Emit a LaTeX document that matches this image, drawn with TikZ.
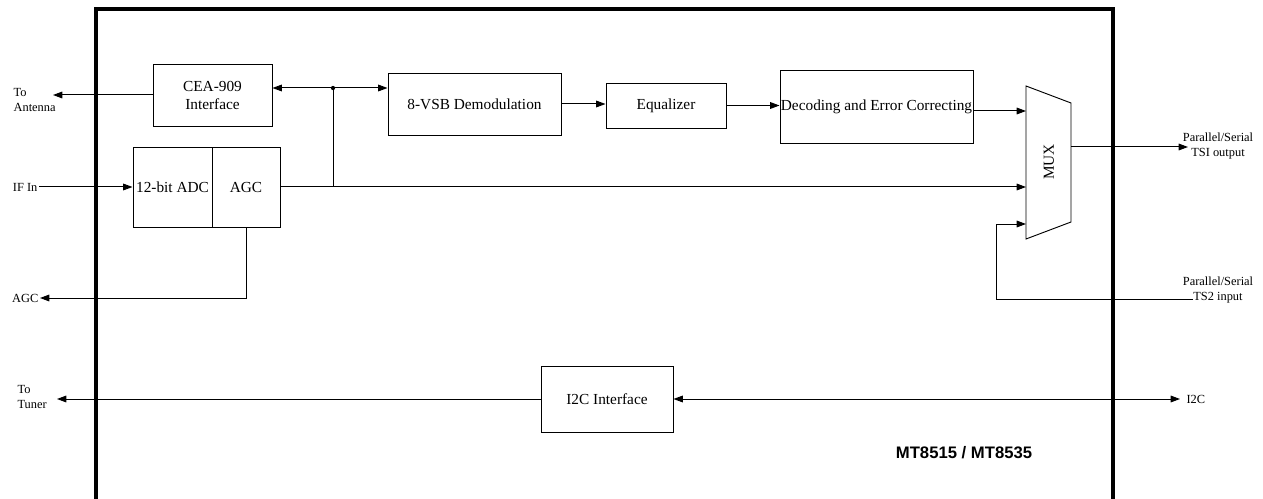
\documentclass[tikz,border=0pt]{standalone}
\usepackage{fontspec}
\setmainfont{Liberation Serif}
\newfontfamily\labsans{Liberation Sans}
\usetikzlibrary{arrows.meta,calc}
\begin{document}
\begin{tikzpicture}[x=0.75pt,y=-0.75pt,
  blk/.style={draw,line width=0.7pt,inner sep=0pt,align=center,font=\fontsize{11.5}{13.5}\selectfont},
  conn/.style={line width=0.75pt},
  arr/.style={conn,-{Triangle[length=7pt,width=5pt]}},
  darr/.style={conn,{Triangle[length=7pt,width=5pt]}-{Triangle[length=7pt,width=5pt]}},
  lab/.style={inner sep=1pt,align=center,font=\fontsize{9.3}{11}\selectfont},
  chip/.style={line width=2.6pt}]
\useasboundingbox (0,0) rectangle (1263,499);
% chip outline
\draw[chip] (96,499) -- (96,9) -- (1113,9) -- (1113,499);
% blocks
\node[blk,minimum width=89.25pt,minimum height=46.5pt] (cea) at (212.5,95) {CEA-909\\Interface};
\node[blk,minimum width=59.25pt,minimum height=60pt] (adc) at (172.5,187) {12-bit ADC};
\node[blk,minimum width=51pt,minimum height=60pt] (agc) at (246,187) {AGC};
\node[blk,minimum width=129.75pt,minimum height=46.5pt] (vsb) at (474.5,104) {8-VSB Demodulation};
\node[blk,minimum width=90pt,minimum height=33.75pt] (eq) at (666,105.5) {Equalizer};
\node[blk,minimum width=144.75pt,minimum height=54.75pt] (dec) at (876.5,106.5) {Decoding and Error Correcting};
\node[blk,minimum width=99pt,minimum height=49.5pt] (i2c) at (607,399) {I2C Interface};
% MUX trapezoid
\draw[line width=0.7pt] (1026,86) -- (1071,103) -- (1071,222) -- (1026,239) -- cycle;
\node[rotate=90,font=\fontsize{11.5}{13}\selectfont] (mux) at (1049,162) {MUX};
\coordinate (mi1) at (1026,111);
\coordinate (mi2) at (1026,187);
\coordinate (mi3) at (1026,224);
\coordinate (mo) at (1071,147);
% free ends
\coordinate (j) at (333,88);
\coordinate (jb) at (333,187);
\coordinate (ant) at (53,95);
\coordinate (ifin) at (39,187);
\coordinate (agcout) at (40,298);
\coordinate (tsout) at (1188,147);
\coordinate (ts2in) at (1193,299);
\coordinate (ts2c) at (996,299);
\coordinate (tuner) at (57,399);
\coordinate (i2cout) at (1180,399);
% connectors
\draw[arr] (cea.west) -- (ant);
\draw[darr] (cea.east |- j) -- (vsb.west |- j);
\draw[conn] (j) -- (jb);
\fill (j) circle (1.6pt);
\draw[arr] (ifin) -- (adc.west);
\draw[arr] (agc.east) -- (mi2);
\draw[arr] (agc.south) -- (agc.south |- agcout) -- (agcout);
\draw[arr] (vsb.east) -- (vsb.east -| eq.west);
\draw[arr] (eq.east) -- (eq.east -| dec.west);
\draw[arr] (dec.east |- mi1) -- (mi1);
\draw[arr] (mo) -- (tsout);
\draw[arr] (ts2in) -- (ts2c) -- (ts2c |- mi3) -- (mi3);
\draw[arr] (i2c.west) -- (tuner);
\draw[darr] (i2c.east) -- (i2cout);
% labels
\node[lab,anchor=west,align=left] (lant) at (12,100) {To\\Antenna};
\node[lab,anchor=east] (lif) at (ifin) {IF In};
\node[lab,anchor=east] (lagc) at (agcout) {AGC};
\node[lab] (lts1) at (1218,146) {Parallel/Serial\\TSI output};
\node[lab] (lts2) at (1218,290) {Parallel/Serial\\TS2 input};
\node[lab,anchor=west,align=left] (ltun) at (16,397) {To\\Tuner};
\node[lab,anchor=west] (li2c) at (1185,399) {I2C};
\node[font=\labsans\bfseries\fontsize{12.5}{14}\selectfont] (title) at (964,453) {MT8515 / MT8535};
\end{tikzpicture}
\end{document}
